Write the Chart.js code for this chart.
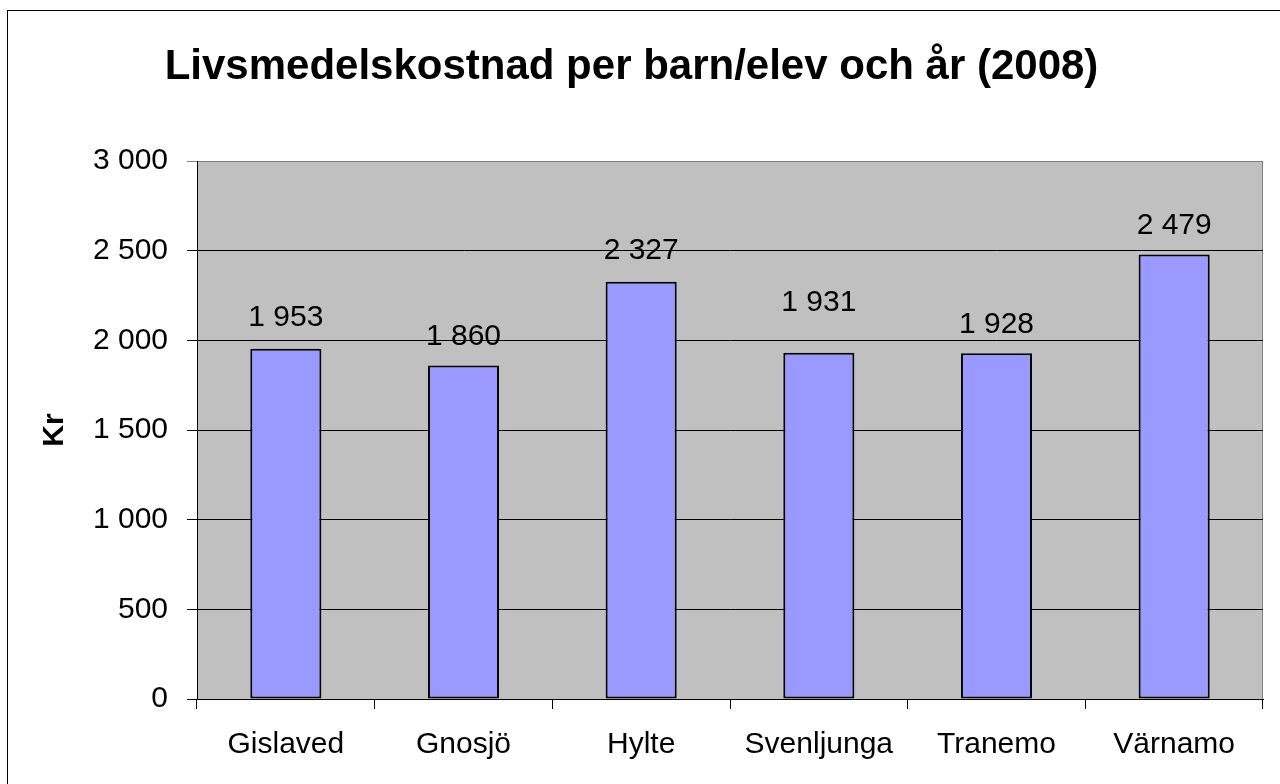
<!DOCTYPE html>
<html>
<head>
<meta charset="utf-8">
<title>Livsmedelskostnad per barn/elev och år (2008)</title>
<script src="https://cdn.jsdelivr.net/npm/chart.js@4/dist/chart.umd.min.js"></script>
<style>
  html, body { margin: 0; padding: 0; background: #fff; }
  canvas { display: block; }
</style>
</head>
<body>
<canvas id="chartCost" width="1280" height="784"></canvas>
<script>
const municipalities = ["Gislaved", "Gnosjö", "Hylte", "Svenljunga", "Tranemo", "Värnamo"];
const costPerPupil = [1953, 1860, 2327, 1931, 1928, 2479];
const yTicks = [0, 500, 1000, 1500, 2000, 2500, 3000];
// how far each value label sits above its bar (px)
const labelLift = [31, 29, 31, 50, 29, 29];

const FONT = "'Liberation Sans', Arial, sans-serif";

function fmt(v) {
  return String(v).replace(/\B(?=(\d{3})+(?!\d))/g, " ");
}

const plotFrame = {
  id: "plotFrame",
  beforeDraw(chart) {
    const { ctx, chartArea: a } = chart;
    ctx.save();
    // outer border
    ctx.strokeStyle = "#000";
    ctx.lineWidth = 1;
    ctx.strokeRect(7.5, 10.5, 1400, 1000);
    // plot area
    ctx.fillStyle = "#c0c0c0";
    ctx.fillRect(a.left, a.top, a.right - a.left, a.bottom - a.top);
    ctx.strokeStyle = "#808080";
    ctx.beginPath();
    ctx.moveTo(a.left, a.top + 0.5);
    ctx.lineTo(a.right - 0.5, a.top + 0.5);
    ctx.lineTo(a.right - 0.5, a.bottom);
    ctx.stroke();
    ctx.restore();
  }
};

const valueLabels = {
  id: "valueLabels",
  afterDatasetsDraw(chart) {
    const { ctx } = chart;
    const meta = chart.getDatasetMeta(0);
    ctx.save();
    ctx.font = "30px " + FONT;
    ctx.fillStyle = "#000";
    ctx.textAlign = "center";
    ctx.textBaseline = "middle";
    meta.data.forEach((bar, i) => {
      ctx.fillText(fmt(costPerPupil[i]), bar.x, bar.y - labelLift[i]);
    });
    ctx.restore();
  }
};

new Chart(document.getElementById("chartCost"), {
  type: "bar",
  data: {
    labels: municipalities,
    datasets: [{
      data: costPerPupil,
      backgroundColor: "#9999ff",
      borderColor: "#000",
      borderWidth: 2,
      borderSkipped: false,
      barPercentage: 0.4,
      categoryPercentage: 1
    }]
  },
  options: {
    responsive: false,
    devicePixelRatio: 1,
    animation: false,
    layout: { padding: { left: 0, right: 17, top: 0, bottom: 0 } },
    plugins: {
      legend: { display: false },
      tooltip: { enabled: false },
      title: {
        display: true,
        text: "Livsmedelskostnad per barn/elev och år (2008)",
        color: "#000",
        font: { family: FONT, size: 42, weight: "bold" },
        padding: { top: 42, bottom: 68.6 }
      }
    },
    scales: {
      x: {
        grid: {
          offset: true,
          drawOnChartArea: false,
          drawTicks: true,
          tickLength: 10,
          color: "#000"
        },
        border: { display: true, color: "#000", width: 1 },
        ticks: {
          color: "#000",
          padding: 18,
          font: { family: FONT, size: 30 }
        },
        afterFit(scale) { scale.height = 85; }
      },
      y: {
        min: 0,
        max: 3000,
        afterBuildTicks(scale) { scale.ticks = yTicks.map(v => ({ value: v })); },
        grid: {
          color: (c) => (c.tick && c.tick.value === 3000 ? "#808080" : "#000"),
          tickLength: 10,
          drawTicks: true
        },
        border: { display: true, color: "#000", width: 1 },
        ticks: {
          color: "#000",
          padding: 19,
          font: { family: FONT, size: 30 },
          callback: (v) => fmt(v)
        },
        title: {
          display: true,
          text: "Kr",
          color: "#000",
          font: { family: FONT, size: 30, weight: "bold" },
          padding: { top: 37, bottom: 0 }
        },
        afterFit(scale) { scale.width = 197; }
      }
    }
  },
  plugins: [plotFrame, valueLabels]
});
</script>
</body>
</html>
